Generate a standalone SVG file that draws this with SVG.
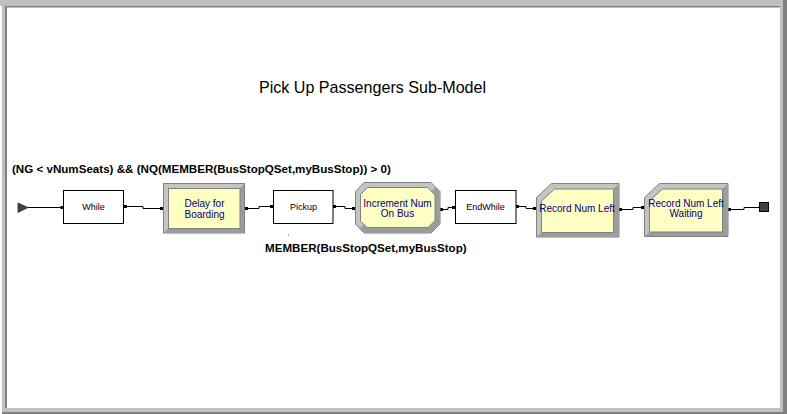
<svg xmlns="http://www.w3.org/2000/svg" width="787" height="414" viewBox="0 0 787 414">
<style>
.lbl{font-family:"Liberation Sans",Arial,sans-serif;font-size:9px;fill:#000;text-anchor:middle}
.blu{font-family:"Liberation Sans",Arial,sans-serif;font-size:10px;fill:#000080;text-anchor:middle}
.cond{font-family:"Liberation Sans",Arial,sans-serif;font-size:11.6px;font-weight:bold;fill:#000}
.title{font-family:"Liberation Sans",Arial,sans-serif;font-size:16.1px;fill:#000;text-anchor:middle}
.plain{fill:#fff;stroke:#000;stroke-width:1}
.lite{fill:#c4c4c4;stroke:#808080;stroke-width:1}
.dark{fill:#9c9c9c}
.yel{fill:#ffffc4;stroke:#808080;stroke-width:1}
.wire{fill:none;stroke:#000;stroke-width:1}
.dot{fill:#000}
</style>
<rect x="0" y="0" width="787" height="414" fill="#fff"/>
<!-- frame -->
<rect x="0" y="0" width="787" height="6" fill="#c0c0c0"/>
<rect x="2" y="0" width="3" height="414" fill="#c0c0c0"/>
<rect x="5" y="6" width="778" height="1.5" fill="#808080"/>
<rect x="5" y="6" width="2" height="402" fill="#808080"/>
<rect x="780" y="0" width="3" height="414" fill="#c0c0c0"/>
<rect x="783" y="0" width="4" height="414" fill="#808080"/>
<rect x="2" y="408" width="781" height="4" fill="#c0c0c0"/>
<rect x="2" y="412" width="785" height="2" fill="#808080"/>

<text class="title" x="372.5" y="93">Pick Up Passengers Sub-Model</text>
<text class="cond" x="12" y="172.5">(NG &lt; vNumSeats) &amp;&amp; (NQ(MEMBER(BusStopQSet,myBusStop)) &gt; 0)</text>
<text class="cond" x="265" y="251.5">MEMBER(BusStopQSet,myBusStop)</text>
<rect x="288" y="234" width="1" height="2" fill="#b0b0b0"/>

<g id="connectors">
<polyline class="wire" points="28,207.5 63,207.5"/>
<polyline class="wire" points="124,206.5 143,206.5 143,208.5 163,208.5"/>
<polyline class="wire" points="245,208.5 259,208.5 259,206.5 273,206.5"/>
<polyline class="wire" points="333,206.5 345,206.5 345,208.5 355,208.5"/>
<polyline class="wire" points="440,209.5 448,209.5 448,207.5 455,207.5"/>
<polyline class="wire" points="516,206.5 526,206.5 526,208.5 536,208.5"/>
<polyline class="wire" points="619,209.5 633,209.5 633,207.5 644,207.5"/>
<polyline class="wire" points="728,209.5 744,209.5 744,207.5 759,207.5"/>
<rect class="dot" x="60.5" y="206" width="3" height="3"/>
<rect class="dot" x="124" y="205" width="3" height="3"/>
<rect class="dot" x="160" y="207" width="3" height="3"/>
<rect class="dot" x="245" y="207" width="3" height="3"/>
<rect class="dot" x="270" y="205" width="3" height="3"/>
<rect class="dot" x="333" y="205" width="3" height="3"/>
<rect class="dot" x="352" y="207" width="3" height="3"/>
<rect class="dot" x="440" y="208" width="3" height="3"/>
<rect class="dot" x="452" y="206" width="3" height="3"/>
<rect class="dot" x="516" y="205" width="3" height="3"/>
<rect class="dot" x="533" y="207" width="3" height="3"/>
<rect class="dot" x="619" y="208" width="3" height="3"/>
<rect class="dot" x="641" y="206" width="3" height="3"/>
<rect class="dot" x="728" y="208" width="3" height="3"/>
</g>

<g id="entry">
<polygon points="18,203 28,207.5 18,212.5" fill="#404040" stroke="#303030" stroke-width="0.8"/>
</g>

<g id="while">
<rect class="plain" x="63.5" y="190.5" width="60" height="33"/>
<text class="lbl" x="93.5" y="210">While</text>
</g>

<g id="delay">
<rect class="lite" x="163.5" y="183.5" width="81" height="49.5"/>
<polygon class="dark" points="244,184 244,232.5 164,232.5 168.5,228.5 240,228.5 240,188.5"/>
<rect class="yel" x="168.5" y="188.5" width="71.5" height="40"/>
<text class="blu" x="204.5" y="206.5">Delay for</text>
<text class="blu" x="204.5" y="217.5">Boarding</text>
</g>

<g id="pickup">
<rect class="plain" x="273.5" y="190.5" width="59.5" height="33"/>
<text class="lbl" x="303.5" y="210">Pickup</text>
</g>

<g id="increment">
<polygon class="lite" points="364,182.5 431,182.5 440,191.5 440,224 431,233 364,233 355.5,224 355.5,191.5"/>
<polygon class="dark" points="435.5,187 439.5,191.5 439.5,224 431,232.5 364,232.5 359.8,228.3 363.8,224.3 367,227.5 428,227.5 435,220.5 435,194.5 431.8,191"/>
<polygon class="yel" points="367.5,187.5 427.5,187.5 435,195 435,220.5 428,227.5 367,227.5 360.5,221 360.5,194.5"/>
<text class="blu" x="397.5" y="207">Increment Num</text>
<text class="blu" x="397.5" y="217">On Bus</text>
</g>

<g id="endwhile">
<rect class="plain" x="455.5" y="190.5" width="60.5" height="33"/>
<text class="lbl" x="485.5" y="210">EndWhile</text>
</g>

<g id="recordleft">
<polygon class="lite" points="551.5,183.5 619,183.5 619,237 536.5,237 536.5,197.5"/>
<polygon class="dark" points="618.5,184 618.5,236.5 537,236.5 541.5,232.5 613.5,232.5 613.5,189"/>
<polygon class="yel" points="554.5,189 613.5,189 613.5,232.5 541.5,232.5 541.5,201"/>
<text class="blu" x="577" y="211.5">Record Num Left</text>
</g>

<g id="recordwaiting">
<polygon class="lite" points="659.5,183.5 728,183.5 728,236.5 644.5,236.5 644.5,197.5"/>
<polygon class="dark" points="727.5,184 727.5,236 645,236 649.5,232 722.5,232 722.5,189"/>
<polygon class="yel" points="662.5,189 722.5,189 722.5,232 649.5,232 649.5,201"/>
<text class="blu" x="686" y="206.5">Record Num Left</text>
<text class="blu" x="686" y="217">Waiting</text>
</g>

<g id="exit">
<rect x="759.5" y="202.5" width="9" height="9" fill="#404040" stroke="#000" stroke-width="1"/>
</g>
</svg>
